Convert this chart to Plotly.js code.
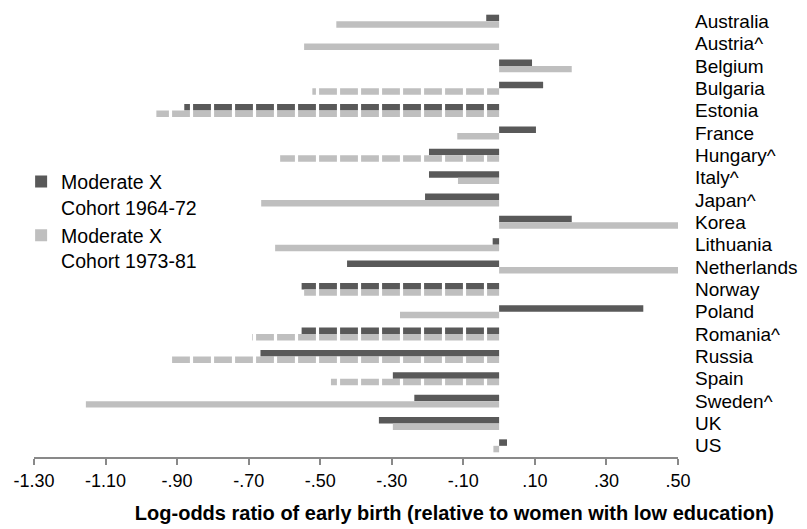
<!DOCTYPE html>
<html>
<head>
<meta charset="utf-8">
<script src="https://cdn.plot.ly/plotly-3.0.1.min.js"></script>
<style>
  html, body { margin: 0; padding: 0; background: #ffffff; }
  #chart { width: 807px; height: 529px; }
</style>
</head>
<body>
<div id="chart"></div>
<script>
// ---- Data ----
const countries = ["Australia", "Austria^", "Belgium", "Bulgaria", "Estonia", "France",
  "Hungary^", "Italy^", "Japan^", "Korea", "Lithuania", "Netherlands", "Norway",
  "Poland", "Romania^", "Russia", "Spain", "Sweden^", "UK", "US"];

const cohort6472 = [-0.036, 0.000, 0.092, 0.123, -0.880, 0.103, -0.196, -0.196, -0.207, 0.203,
  -0.018, -0.425, -0.552, 0.403, -0.552, -0.667, -0.297, -0.237, -0.336, 0.022];

const cohort7381 = [-0.455, -0.545, 0.203, -0.522, -0.958, -0.117, -0.612, -0.115, -0.665, 0.510,
  -0.626, 0.510, -0.545, -0.277, -0.690, -0.920, -0.470, -1.155, -0.297, -0.016];

// significance flags (drawn with dashed outline in the reference)
const sig6472 = [0,0,0,0,1,0,0,0,0,0,0,0,1,0,1,0,0,0,0,0];
const sig7381 = [0,0,0,1,1,0,1,0,0,0,0,0,1,0,1,1,1,0,0,0];

const seriesNames = ["Moderate X<br>Cohort 1964-72", "Moderate X<br>Cohort 1973-81"];
const xTickVals = [-1.3, -1.1, -0.9, -0.7, -0.5, -0.3, -0.1, 0.1, 0.3, 0.5];
const xTickText = ["-1.30", "-1.10", "-.90", "-.70", "-.50", "-.30", "-.10", ".10", ".30", ".50"];
const xTitle = "Log-odds ratio of early birth (relative to women with low education)";

// ---- Styles ----
const DARK = "#595959", LIGHT = "#bfbfbf", AXIS = "#898989";
const FONT = "Liberation Sans, Arial, sans-serif";

function patternFor(flags, color) {
  return {
    shape: flags.map(f => f ? "|" : ""),
    fgcolor: "#ffffff",
    fgopacity: 1,
    bgcolor: color,
    size: 21,
    solidity: 0.15,
    fillmode: "overlay"
  };
}

const traces = [
  {
    type: "bar", orientation: "h", name: seriesNames[0],
    x: cohort6472, y: countries,
    marker: { color: DARK, line: { width: 0 }, pattern: patternFor(sig6472, DARK) },
    hoverinfo: "x+y"
  },
  {
    type: "bar", orientation: "h", name: seriesNames[1],
    x: cohort7381, y: countries,
    marker: { color: LIGHT, line: { width: 0 }, pattern: patternFor(sig7381, LIGHT) },
    hoverinfo: "x+y"
  }
];

const xMin = -1.3, xMax = 0.5;
const boundaryTicks = countries.map((c, i) => i - 0.5).concat([countries.length - 0.5]);

const layout = {
  width: 807, height: 529,
  paper_bgcolor: "#ffffff", plot_bgcolor: "#ffffff",
  font: { family: FONT, size: 18, color: "#000000" },
  margin: { l: 34, r: 129, t: 10, b: 72, pad: 0 },
  barmode: "group",
  bargap: 0.42,
  bargroupgap: 0,
  showlegend: true,
  legend: {
    x: -0.02, xanchor: "left", y: 0.659, yanchor: "top",
    bgcolor: "rgba(0,0,0,0)", borderwidth: 0,
    font: { family: FONT, size: 19.5, color: "#000000" },
    valign: "top", tracegroupgap: 6, traceorder: "normal"
  },
  title: {
    text: "<b>" + xTitle + "</b>",
    font: { family: FONT, size: 20, color: "#000000" },
    xref: "container", x: 0.563, xanchor: "center",
    yref: "container", y: 0.03, yanchor: "middle"
  },
  xaxis: {
    range: [xMin, xMax],
    tickmode: "array", tickvals: xTickVals, ticktext: xTickText,
    showline: true, linecolor: AXIS, linewidth: 2,
    ticks: "outside", ticklen: 6, tickwidth: 2, tickcolor: AXIS,
    showgrid: false, zeroline: false,
    tickfont: { family: FONT, size: 18, color: "#000000" },
    fixedrange: true
  },
  yaxis: {
    type: "category",
    autorange: "reversed",
    side: "right",
    tickmode: "array", tickvals: countries, ticktext: countries,
    showline: false, showgrid: false, zeroline: false,
    ticks: "", ticklabelstandoff: 16,
    tickfont: { family: FONT, size: 19, color: "#000000" },
    fixedrange: true
  },
  yaxis2: {
    overlaying: "y", anchor: "free", side: "left",
    position: (0 - xMin) / (xMax - xMin),
    range: [countries.length - 0.5, -0.5],
    tickmode: "array", tickvals: boundaryTicks,
    showticklabels: false,
    showline: true, linecolor: AXIS, linewidth: 2,
    ticks: "outside", ticklen: 5, tickwidth: 2, tickcolor: AXIS,
    showgrid: false, zeroline: false, fixedrange: true
  }
};

Plotly.newPlot("chart", traces, layout, { displayModeBar: false, staticPlot: true });
</script>
</body>
</html>
